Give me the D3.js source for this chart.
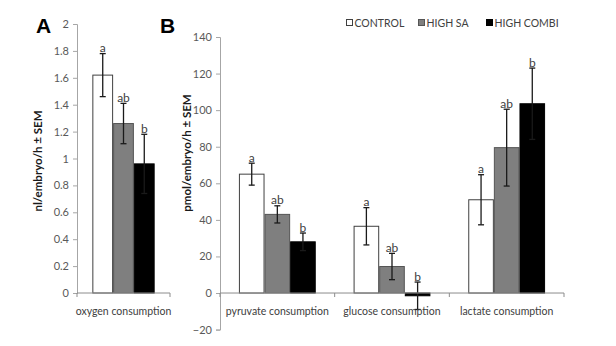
<!DOCTYPE html>
<html><head><meta charset="utf-8">
<script src="https://cdnjs.cloudflare.com/ajax/libs/d3/7.8.5/d3.min.js"></script>
<style>
body{margin:0;background:#fff;}
text{font-family:Lato,"Liberation Sans",sans-serif;}
</style></head>
<body>
<svg id="chart" width="616" height="346"></svg>
<script>
// ---- data ----
const seriesNames = ["CONTROL", "HIGH SA", "HIGH COMBI"];
const categoriesA = ["oxygen consumption"];
const oxygenMean = [1.62, 1.26, 0.96];
const oxygenSem = [0.16, 0.15, 0.22];
const oxygenLetters = ["a", "ab", "b"];
const ticksA = [0, 0.2, 0.4, 0.6, 0.8, 1, 1.2, 1.4, 1.6, 1.8, 2];

const categoriesB = ["pyruvate consumption", "glucose consumption", "lactate consumption"];
const controlMean = [65, 36.5, 51];
const controlSem = [6, 10.2, 13.7];
const highSAMean = [43, 14.5, 79.5];
const highSASem = [4.7, 7.2, 21];
const highCombiMean = [28, -1.5, 103.5];
const highCombiSem = [4.8, 7.5, 19.5];
const lettersB = [["a","ab","b"],["a","ab","b"],["a","ab","b"]];
const ticksB = [-20, 0, 20, 40, 60, 80, 100, 120, 140];

const fills = ["#ffffff", "#7f7f7f", "#000000"];
const strokes = ["#404040", "#555555", "#000000"];

const svg = d3.select("#chart");

function drawPanel(opts) {
  const {cats, means, sems, letters, yDomain, yRange, xRange, ticks, fmt} = opts;
  const g = svg.append("g");
  const x0 = d3.scaleBand().domain(cats).range(xRange).padding(0);
  const bw = x0.bandwidth();
  const off = bw * 0.165;
  const x1 = d3.scaleBand().domain(seriesNames).range([off, bw - off]).padding(0);
  const y = d3.scaleLinear().domain(yDomain).range(yRange);

  // y axis
  const ya = g.append("g").attr("transform", `translate(${xRange[0]},0)`)
    .call(d3.axisLeft(y).tickValues(ticks).tickFormat(fmt).tickSize(4).tickPadding(4));
  ya.select(".domain").attr("stroke", "#a6a6a6");
  ya.selectAll(".tick line").attr("stroke", "#a6a6a6");
  ya.selectAll(".tick text").attr("fill", "#595959").style("font-size", "11px")
    .style("font-family", "Lato,'Liberation Sans',sans-serif");

  // bars
  cats.forEach((c, ci) => {
    seriesNames.forEach((s, si) => {
      const v = means[si][ci];
      const e = sems[si][ci];
      const bx = x0(c) + x1(s);
      g.append("rect")
        .attr("x", bx + 0.5).attr("width", x1.bandwidth() - 1)
        .attr("y", y(Math.max(0, v))).attr("height", Math.abs(y(v) - y(0)))
        .attr("fill", fills[si]).attr("stroke", strokes[si]).attr("stroke-width", 1);
      const cx = bx + x1.bandwidth() / 2;
      const ec = "#1a1a1a";
      g.append("line").attr("x1", cx).attr("x2", cx).attr("y1", y(v - e)).attr("y2", y(v + e))
        .attr("stroke", ec).attr("stroke-width", 1.3);
      [v - e, v + e].forEach(t => {
        g.append("line").attr("x1", cx - 3).attr("x2", cx + 3).attr("y1", y(t)).attr("y2", y(t))
          .attr("stroke", ec).attr("stroke-width", 1.3);
      });
      g.append("text").attr("x", cx).attr("y", y(v + e) - 1.5)
        .attr("text-anchor", "middle").attr("fill", "#404040")
        .style("font-size", "12px").text(letters[ci][si]);
    });
  });

  // x axis at zero
  const y0 = y(0);
  g.append("line").attr("x1", xRange[0]).attr("x2", xRange[1]).attr("y1", y0).attr("y2", y0)
    .attr("stroke", "#8c8c8c").attr("stroke-width", 1);
  const bounds = cats.map(c => x0(c)).concat([xRange[1]]);
  bounds.forEach(bx => {
    g.append("line").attr("x1", bx).attr("x2", bx).attr("y1", y0).attr("y2", y0 + 4)
      .attr("stroke", "#8c8c8c");
  });
  cats.forEach(c => {
    g.append("text").attr("x", x0(c) + bw / 2).attr("y", 315)
      .attr("text-anchor", "middle").attr("fill", "#404040")
      .style("font-size", "10.5px").text(c);
  });
  return g;
}

drawPanel({
  cats: categoriesA,
  means: oxygenMean.map(v => [v]),
  sems: oxygenSem.map(v => [v]),
  letters: [oxygenLetters],
  yDomain: [0, 2], yRange: [293, 24], xRange: [77, 170],
  ticks: ticksA, fmt: d3.format("~g")
});

drawPanel({
  cats: categoriesB,
  means: [controlMean, highSAMean, highCombiMean],
  sems: [controlSem, highSASem, highCombiSem],
  letters: lettersB,
  yDomain: [-20, 140], yRange: [329.6, 37], xRange: [220, 564],
  ticks: ticksB, fmt: d3.format("d")
});

// panel letters
svg.append("text").attr("x", 36).attr("y", 33).style("font-size", "21px")
  .style("font-weight", "bold").style("font-family", "'Liberation Sans',Arial,sans-serif").text("A");
svg.append("text").attr("x", 160).attr("y", 33).style("font-size", "21px")
  .style("font-weight", "bold").style("font-family", "'Liberation Sans',Arial,sans-serif").text("B");

// y axis titles
svg.append("text").attr("transform", "translate(42,161) rotate(-90)")
  .attr("text-anchor", "middle").style("font-size", "11.5px").style("font-weight", "bold")
  .attr("fill", "#1a1a1a").text("nl/embryo/h ± SEM");
svg.append("text").attr("transform", "translate(191,153) rotate(-90)")
  .attr("text-anchor", "middle").style("font-size", "11.5px").style("font-weight", "bold")
  .attr("fill", "#1a1a1a").text("pmol/embryo/h ± SEM");

// legend
const legendX = [346, 418, 486];
seriesNames.forEach((s, i) => {
  const lg = svg.append("g").attr("transform", `translate(${legendX[i]},19)`);
  lg.append("rect").attr("x", 0.5).attr("y", 0.5).attr("width", 6).attr("height", 6)
    .attr("fill", fills[i]).attr("stroke", strokes[i]);
  lg.append("text").attr("x", 8.5).attr("y", 7.5).style("font-size", "10.5px")
    .attr("fill", "#404040").text(s);
});
</script>
</body></html>
